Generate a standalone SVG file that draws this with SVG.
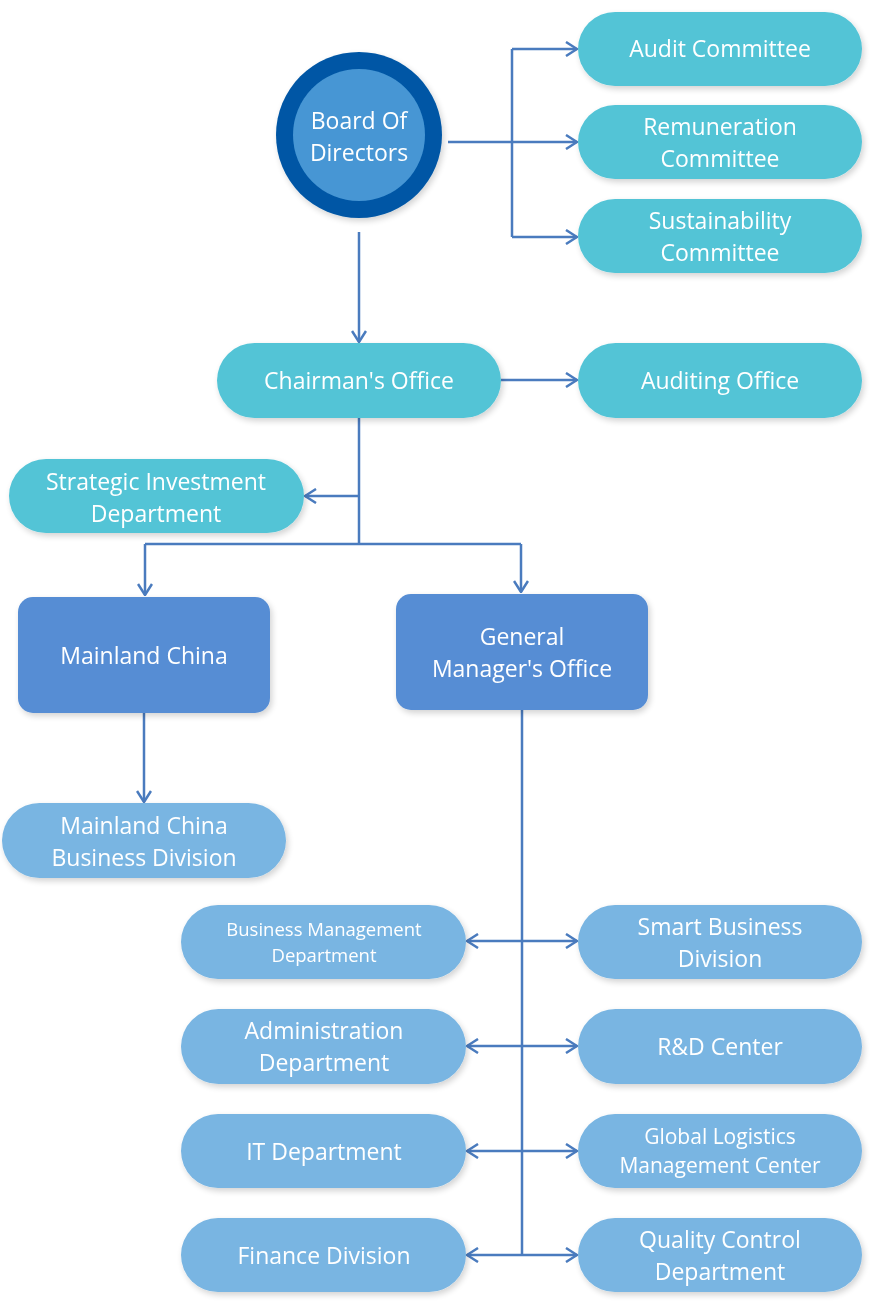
<svg xmlns="http://www.w3.org/2000/svg" width="876" height="1305" viewBox="0 0 876 1305">
  <defs>
    <filter id="shadow" x="-10%" y="-20%" width="125%" height="150%">
      <feGaussianBlur in="SourceAlpha" stdDeviation="3"/>
      <feOffset dx="2" dy="3" result="b"/>
      <feComponentTransfer><feFuncA type="linear" slope="0.18"/></feComponentTransfer>
      <feMerge><feMergeNode/><feMergeNode in="SourceGraphic"/></feMerge>
    </filter>
    <marker id="arrow" viewBox="0 0 14 16" refX="13" refY="8" markerWidth="14" markerHeight="16" markerUnits="userSpaceOnUse" orient="auto-start-reverse">
      <path d="M2,1 L13,8 L2,15" fill="none" stroke="#4A7BBE" stroke-width="2.5"/>
    </marker>
  </defs>
  <style>
    .teal { fill: #53C4D6; }
    .light { fill: #79B5E2; }
    .blue { fill: #568DD4; }
    .lbl { font-family: "Open Sans", "Noto Sans", sans-serif; font-size: 23px; fill: #FFFFFF; text-anchor: middle; }
    .small { font-size: 18.5px; }
    .mid { font-size: 21px; }
    .wire { fill: none; stroke: #4A7BBE; stroke-width: 2.5; }
    .arr { marker-end: url(#arrow); }
    .both { marker-start: url(#arrow); marker-end: url(#arrow); }
  </style>

  <rect width="876" height="1305" fill="#FFFFFF"/>

  <!-- connectors -->
  <g id="connectors">
    <path class="wire" d="M448,142 H512"/>
    <path class="wire" d="M512,49 V237"/>
    <path class="wire arr" d="M512,49 H577"/>
    <path class="wire arr" d="M512,142 H577"/>
    <path class="wire arr" d="M512,237 H577"/>
    <path class="wire arr" d="M359,232 V342"/>
    <path class="wire arr" d="M501,380 H577"/>
    <path class="wire" d="M359,418 V544"/>
    <path class="wire arr" d="M359,496 H305"/>
    <path class="wire" d="M145,544 H521"/>
    <path class="wire arr" d="M145,544 V595"/>
    <path class="wire arr" d="M521,544 V592"/>
    <path class="wire arr" d="M144,713 V802"/>
    <path class="wire" d="M522,710 V1255"/>
    <path class="wire both" d="M467,941 H577"/>
    <path class="wire both" d="M467,1046 H577"/>
    <path class="wire both" d="M467,1151 H577"/>
    <path class="wire both" d="M467,1255 H577"/>
  </g>

  <!-- board -->
  <g id="board" filter="url(#shadow)">
    <circle cx="359" cy="135" r="83" fill="#0057A5"/>
    <circle cx="359" cy="135" r="66" fill="#4796D4"/>
    <text class="lbl" x="359" y="129">Board Of</text>
    <text class="lbl" x="359" y="161">Directors</text>
  </g>

  <!-- committees -->
  <g id="audit-committee" filter="url(#shadow)">
    <rect class="teal" x="578" y="12" width="284" height="74" rx="37"/>
    <text class="lbl" x="720" y="57">Audit Committee</text>
  </g>
  <g id="remuneration-committee" filter="url(#shadow)">
    <rect class="teal" x="578" y="105" width="284" height="74" rx="37"/>
    <text class="lbl" x="720" y="135">Remuneration</text>
    <text class="lbl" x="720" y="167">Committee</text>
  </g>
  <g id="sustainability-committee" filter="url(#shadow)">
    <rect class="teal" x="578" y="199" width="284" height="74" rx="37"/>
    <text class="lbl" x="720" y="229">Sustainability</text>
    <text class="lbl" x="720" y="261">Committee</text>
  </g>

  <!-- chairman level -->
  <g id="chairman-office" filter="url(#shadow)">
    <rect class="teal" x="217" y="343" width="284" height="75" rx="37.5"/>
    <text class="lbl" x="359" y="389">Chairman's Office</text>
  </g>
  <g id="auditing-office" filter="url(#shadow)">
    <rect class="teal" x="578" y="343" width="284" height="75" rx="37.5"/>
    <text class="lbl" x="720" y="389">Auditing Office</text>
  </g>
  <g id="strategic-investment" filter="url(#shadow)">
    <rect class="teal" x="9" y="459" width="295" height="74" rx="37"/>
    <text class="lbl" x="156" y="490">Strategic Investment</text>
    <text class="lbl" x="156" y="522">Department</text>
  </g>

  <!-- regional / general management -->
  <g id="mainland-china" filter="url(#shadow)">
    <rect class="blue" x="18" y="597" width="252" height="116" rx="15"/>
    <text class="lbl" x="144" y="664">Mainland China</text>
  </g>
  <g id="general-manager" filter="url(#shadow)">
    <rect class="blue" x="396" y="594" width="252" height="116" rx="15"/>
    <text class="lbl" x="522" y="645">General</text>
    <text class="lbl" x="522" y="677">Manager's Office</text>
  </g>
  <g id="mainland-business" filter="url(#shadow)">
    <rect class="light" x="2" y="803" width="284" height="75" rx="37.5"/>
    <text class="lbl" x="144" y="834">Mainland China</text>
    <text class="lbl" x="144" y="866">Business Division</text>
  </g>

  <!-- departments, left column -->
  <g id="business-management" filter="url(#shadow)">
    <rect class="light" x="181" y="905" width="285" height="74" rx="37"/>
    <text class="lbl small" x="324" y="936">Business Management</text>
    <text class="lbl small" x="324" y="962">Department</text>
  </g>
  <g id="administration" filter="url(#shadow)">
    <rect class="light" x="181" y="1009" width="285" height="75" rx="37.5"/>
    <text class="lbl" x="324" y="1039">Administration</text>
    <text class="lbl" x="324" y="1071">Department</text>
  </g>
  <g id="it-department" filter="url(#shadow)">
    <rect class="light" x="181" y="1114" width="285" height="74" rx="37"/>
    <text class="lbl" x="324" y="1160">IT Department</text>
  </g>
  <g id="finance-division" filter="url(#shadow)">
    <rect class="light" x="181" y="1218" width="285" height="74" rx="37"/>
    <text class="lbl" x="324" y="1264">Finance Division</text>
  </g>

  <!-- departments, right column -->
  <g id="smart-business" filter="url(#shadow)">
    <rect class="light" x="578" y="905" width="284" height="74" rx="37"/>
    <text class="lbl" x="720" y="935">Smart Business</text>
    <text class="lbl" x="720" y="967">Division</text>
  </g>
  <g id="rd-center" filter="url(#shadow)">
    <rect class="light" x="578" y="1009" width="284" height="75" rx="37.5"/>
    <text class="lbl" x="720" y="1055">R&amp;D Center</text>
  </g>
  <g id="global-logistics" filter="url(#shadow)">
    <rect class="light" x="578" y="1114" width="284" height="74" rx="37"/>
    <text class="lbl mid" x="720" y="1144">Global Logistics</text>
    <text class="lbl mid" x="720" y="1173">Management Center</text>
  </g>
  <g id="quality-control" filter="url(#shadow)">
    <rect class="light" x="578" y="1218" width="284" height="74" rx="37"/>
    <text class="lbl" x="720" y="1248">Quality Control</text>
    <text class="lbl" x="720" y="1280">Department</text>
  </g>
</svg>
